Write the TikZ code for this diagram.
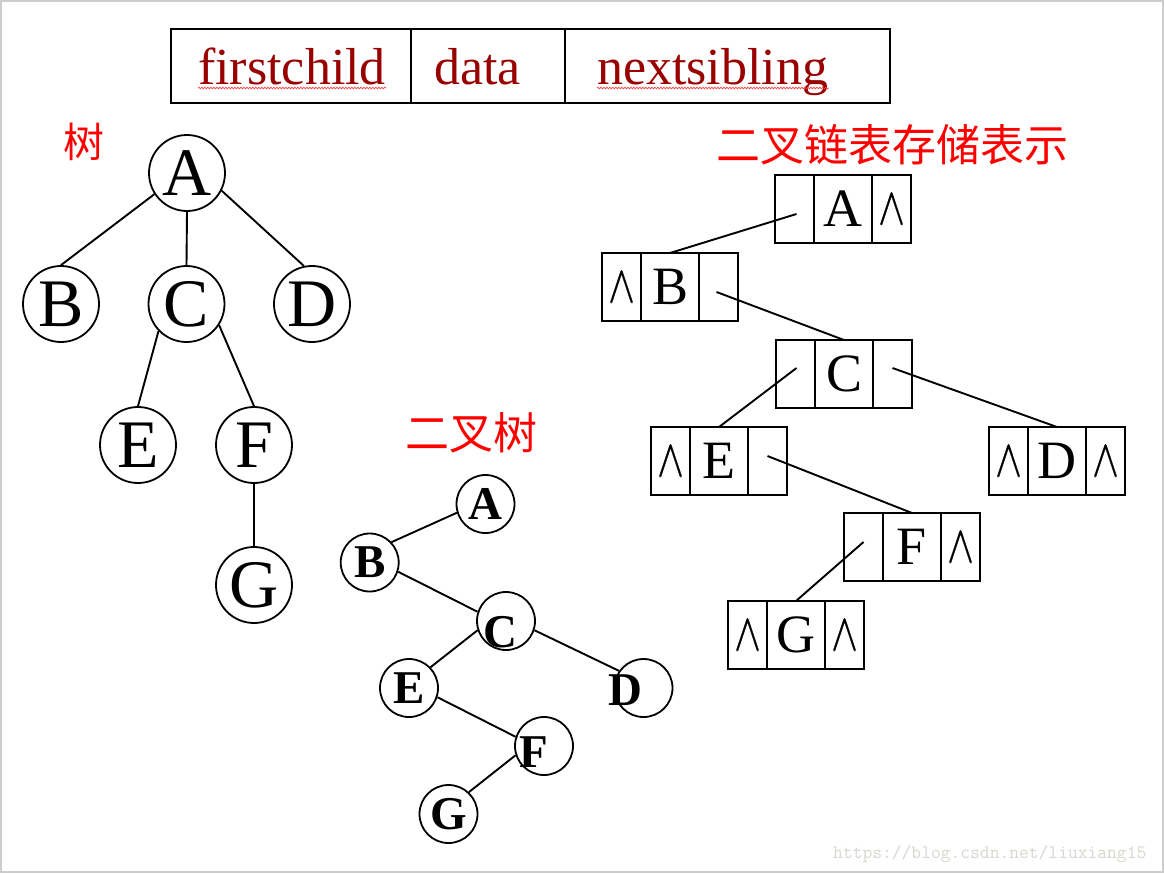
\documentclass[tikz,border=0pt]{standalone}
\usepackage{fontspec}
\setmainfont{Liberation Serif}
\newfontfamily\cjk{Noto Sans CJK SC}
\newfontfamily\lmm{Latin Modern Math}[FakeBold=0.6]
\usetikzlibrary{decorations.pathmorphing}
\definecolor{dred}{RGB}{153,0,0}
\definecolor{framegray}{RGB}{205,205,205}
\definecolor{wmark}{RGB}{215,215,208}
\newcommand{\wdg}{\resizebox{28pt}{32pt}{\lmm ∧}}
\newcommand{\lbox}[6]{%
  \node[cell,minimum width=39pt,anchor=west] (#1a) at (#2,#3) {#4};
  \node[cell,minimum width=58pt,anchor=west] (#1b) at (#1a.east) {#5};
  \node[cell,minimum width=39pt,anchor=west] (#1c) at (#1b.east) {#6};}
\begin{document}
\begin{tikzpicture}[x=1pt,y=-1pt,
  tnode/.style={draw,circle,line width=1.8pt,minimum size=76pt,inner sep=0pt,
    font=\fontsize{68}{68}\selectfont},
  bnode/.style={draw,circle,line width=1.8pt,minimum size=58pt,inner sep=0pt},
  bletter/.style={inner sep=0pt,font=\fontsize{47}{47}\selectfont\bfseries},
  cell/.style={draw,line width=2pt,minimum height=68pt,inner sep=0pt,outer sep=0pt,
    font=\fontsize{54}{54}\selectfont},
  tcell/.style={draw,line width=2pt,minimum height=74pt,inner sep=0pt,outer sep=0pt},
  ttext/.style={inner sep=0pt,text=dred,font=\fontsize{52}{52}\selectfont,anchor=base west},
  spell/.style={draw=red!75,line width=0.7pt,decorate,
    decoration={snake,amplitude=0.8pt,segment length=3pt}},
  link/.style={line width=1.9pt},
  title/.style={text=red,inner sep=0pt,font=\cjk\fontsize{44}{44}\selectfont}]
\fill[white] (0,0) rectangle (1164,873);
\useasboundingbox (0,0) rectangle (1164,873);
\draw[framegray,line width=2pt] (1,1) rectangle (1162.5,871.5);

% top table
\node[tcell,minimum width=240pt] (T1) at (291,66) {};
\node[tcell,minimum width=154pt] (T2) at (488,66) {};
\node[tcell,minimum width=325pt] (T3) at (727.5,66) {};
\node[ttext] (t1) at (198,84.5) {firstchild};
\node[ttext] (t2) at (434,84.5) {data};
\node[ttext] (t3) at (597,84.5) {nextsibling};
\draw[spell] ([yshift=-3.5pt]t1.base west) -- ([yshift=-3.5pt]t1.base east);
\draw[spell] ([yshift=-3.5pt]t3.base west) -- ([yshift=-3.5pt]t3.base east);

% titles
\node[title,font=\cjk\fontsize{41}{41}\selectfont] (h1) at (84,142) {树};
\node[title] (h2) at (892,145) {二叉链表存储表示};
\node[title] (h3) at (471,433) {二叉树};

% tree
\node[tnode] (A) at (187,173) {A};
\node[tnode] (B) at (61,304) {B};
\node[tnode] (C) at (186.5,304) {C};
\node[tnode] (D) at (312,304) {D};
\node[tnode] (E) at (138,445) {E};
\node[tnode] (F) at (254,445) {F};
\node[tnode] (G) at (254,585) {G};
\draw[link] (A.-147) -- (B.north);
\draw[link] (A.south) -- (C.north);
\draw[link] (A.-27) -- (D.102);
\draw[link] (C.-136) -- (E.north);
\draw[link] (C.-33) -- (F.north);
\draw[link] (F.south) -- (G.north);

% binary tree
\node[bnode] (bA) at (485.5,504) {};
\node[bnode] (bB) at (369.7,562.5) {};
\node[bnode] (bC) at (506,621) {};
\node[bnode] (bD) at (643.5,688) {};
\node[bnode] (bE) at (409,688) {};
\node[bnode] (bF) at (544,746) {};
\node[bnode] (bG) at (448.5,814) {};
\node[bletter] (lA) at (bA) {A};
\node[bletter] (lB) at (bB) {B};
\node[bletter,xshift=-6pt,yshift=-11pt] (lC) at (bC) {C};
\node[bletter,xshift=-18pt,yshift=-2pt] (lD) at (bD) {D};
\node[bletter] (lE) at (bE) {E};
\node[bletter,xshift=-10pt,yshift=-6pt] (lF) at (bF) {F};
\node[bletter] (lG) at (bG) {G};
\draw[link] (bA.197) -- (bB.43);
\draw[link] (bB.-18) -- (bC.162);
\draw[link] (bC.198) -- (bE.44);
\draw[link] (bC.-18) -- (bD.145);
\draw[link] (bE.-18) -- (bF.162);
\draw[link] (bF.198) -- (bG.47);

% linked list
\lbox{LA}{775}{209}{}{A}{\wdg}
\lbox{LB}{602}{287}{\wdg}{B}{}
\lbox{LC}{776}{374}{}{C}{}
\lbox{LE}{651}{461}{\wdg}{E}{}
\lbox{LD}{989}{461}{\wdg}{D}{\wdg}
\lbox{LF}{844}{547}{}{F}{\wdg}
\lbox{LG}{728}{635}{\wdg}{G}{\wdg}
\draw[link] ([xshift=2pt,yshift=-5pt]LAa.center) -- (LBb.north);
\draw[link] ([xshift=-2pt,yshift=-5pt]LBc.center) -- (LCb.north);
\draw[link] ([xshift=1pt,yshift=6pt]LCa.center) -- (LEb.north);
\draw[link] ([yshift=6pt]LCc.center) -- (LDb.north);
\draw[link] ([yshift=5pt]LEc.center) -- (LFb.north);
\draw[link] ([yshift=5pt]LFa.center) -- (LGb.north);

% watermark
\node[inner sep=0pt,anchor=base west,text=wmark,font=\ttfamily\fontsize{19}{19}\selectfont] (wm) at (833,858) {https://blog.csdn.net/liuxiang15};
\end{tikzpicture}
\end{document}
